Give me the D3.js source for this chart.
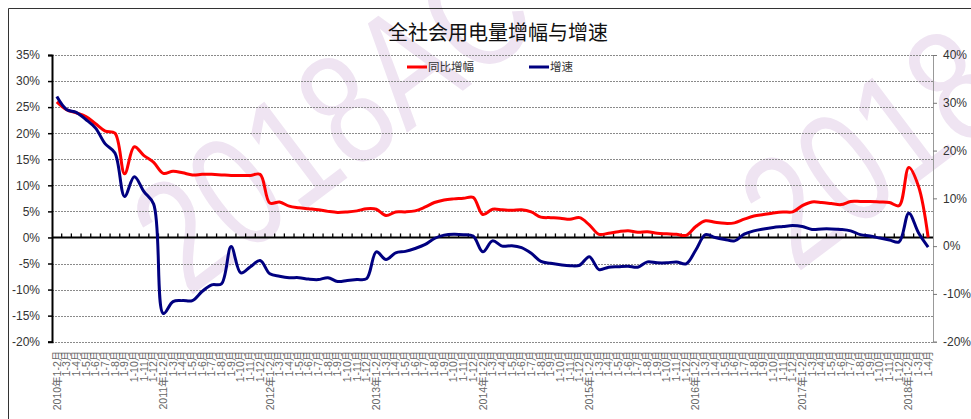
<!DOCTYPE html>
<html>
<head>
<meta charset="utf-8">
<script src="https://cdn.jsdelivr.net/npm/d3@7"></script>
<style>
  body { margin: 0; background: #fff; }
  svg { display: block; }
</style>
</head>
<body>
<div id="chart"></div>
<script>
// years and months for the category labels
const years = [2010, 2011, 2012, 2013, 2014, 2015, 2016, 2017, 2018];
const monthEnds = [2, 3, 4, 5, 6, 7, 8, 9, 10, 11, 12];
const lastYearMonthEnds = [2, 3, 4];

// 同比增幅 (left axis, %)
const yoyGrowth = [
  26.0, 24.5, 23.9, 23.2, 21.8, 20.4, 20.0, 12.2, 17.4, 15.7, 14.4,
  12.3, 12.7, 12.4, 12.0, 12.1, 12.1, 12.0, 11.9, 11.9, 11.9, 12.1,
  6.6, 6.8, 6.0, 5.7, 5.5, 5.3, 5.0, 4.8, 4.9, 5.1, 5.5,
  5.4, 4.2, 4.9, 4.9, 5.1, 5.8, 6.7, 7.2, 7.4, 7.5, 7.7,
  4.4, 5.4, 5.3, 5.2, 5.3, 4.9, 3.9, 3.8, 3.7, 3.5, 3.8,
  2.4, 0.6, 0.8, 1.1, 1.3, 1.0, 1.1, 0.8, 0.7, 0.6, 0.4,
  2.1, 3.2, 2.9, 2.7, 2.8, 3.5, 4.1, 4.4, 4.7, 4.9, 4.9,
  6.1, 6.8, 6.7, 6.5, 6.3, 6.9, 6.9, 6.9, 6.8, 6.7, 6.1,
  13.4, 9.8, 0.0
];

// 增速 (right axis, %)
const speed = [
  31.3, 28.6, 28.0, 26.5, 24.7, 21.4, 19.5, 10.4, 14.5, 11.4, 8.8,
  -14.1, -11.6, -11.4, -11.4, -9.5, -8.1, -7.9, -0.1, -5.6, -4.3, -3.0,
  -5.8, -6.3, -6.6, -6.6, -6.9, -7.0, -6.6, -7.4, -7.2, -7.0, -6.8,
  -1.2, -2.8, -1.4, -1.1, -0.5, 0.3, 1.6, 2.3, 2.5, 2.4, 2.1,
  -1.2, 1.1, 0.0, 0.1, -0.3, -1.5, -3.2, -3.6, -3.9, -4.1, -4.0,
  -2.2, -4.9, -4.4, -4.3, -4.2, -4.4, -3.3, -3.5, -3.5, -3.3, -3.7,
  -0.8, 2.4, 1.8, 1.4, 1.1, 2.5, 3.2, 3.6, 3.9, 4.1, 4.3,
  4.1, 3.5, 3.6, 3.6, 3.5, 3.2, 2.4, 2.1, 1.7, 1.3, 0.9,
  6.9, 2.8, -0.2
];

const leftTicks = [-20, -15, -10, -5, 0, 5, 10, 15, 20, 25, 30, 35];
const rightTicks = [-20, -10, 0, 10, 20, 30, 40];

// build category labels (they repeat every year, so key by index)
const categories = [];
years.forEach(yr => {
  const ends = yr === 2018 ? lastYearMonthEnds : monthEnds;
  ends.forEach((m, k) => {
    categories.push(k === 0 ? `${yr}年1-${m}月` : `1-${m}月`);
  });
});

const data = categories.map((c, i) => ({ i, cat: c, red: yoyGrowth[i], blue: speed[i] }));

// chart dimensions
const width = 971;
const height = 419;
const plotLeft = 52;
const plotRight = 933;
const plotTop = 55;
const plotBottom = 341.7;

const x = d3.scaleBand(d3.range(categories.length), [plotLeft, plotRight]).padding(0);
const cx = i => x(i) + x.bandwidth() / 2;
const yL = d3.scaleLinear([-20, 35], [plotBottom, plotTop]);
const yR = d3.scaleLinear([-20, 40], [plotBottom, plotTop]);

const svg = d3.select("#chart").append("svg")
    .attr("width", width)
    .attr("height", height)
    .attr("viewBox", [0, 0, width, height]);

// watermark
const wm = svg.append("g")
    .attr("font-family", "'Liberation Sans', sans-serif")
    .attr("font-size", 140)
    .attr("fill", "#efe4f2");
wm.append("text")
    .attr("transform", "translate(188,298) rotate(-37) scale(0.88,1.15)")
    .text("2018AC");
wm.append("text")
    .attr("transform", "translate(796,274) rotate(-37) scale(0.88,1.15)")
    .text("2018AC");

// outer frame
svg.append("path")
    .attr("d", `M8.5,${height}V8.5H${width}`)
    .attr("fill", "none")
    .attr("stroke", "#333")
    .attr("stroke-width", 1);

// grid lines
svg.append("g")
  .selectAll("line")
  .data(leftTicks.filter(v => v !== 0))
  .join("line")
    .attr("x1", plotLeft)
    .attr("x2", plotRight)
    .attr("y1", d => Math.round(yL(d)) + 0.5)
    .attr("y2", d => Math.round(yL(d)) + 0.5)
    .attr("stroke", "#8a8a8a")
    .attr("stroke-dasharray", "2,1");

// left axis
svg.append("g")
    .attr("transform", `translate(${plotLeft},0)`)
    .call(d3.axisLeft(yL).tickValues(leftTicks).tickSize(4).tickPadding(8).tickFormat(d => d + "%"))
    .call(g => g.select(".domain").attr("stroke", "#000").attr("stroke-width", 2))
    .call(g => g.selectAll(".tick line").attr("stroke", "#000").attr("stroke-width", 1.5))
    .call(g => g.selectAll("text").attr("font-family", "'Liberation Sans', Arial, sans-serif").attr("font-size", 12).attr("fill", "#333"));

// right axis
svg.append("g")
    .attr("transform", `translate(${plotRight},0)`)
    .call(d3.axisRight(yR).tickValues(rightTicks).tickSize(4).tickPadding(6).tickFormat(d => d + "%"))
    .call(g => g.select(".domain").attr("stroke", "#999"))
    .call(g => g.selectAll(".tick line").attr("stroke", "#777"))
    .call(g => g.selectAll("text").attr("font-family", "'Liberation Sans', Arial, sans-serif").attr("font-size", 12).attr("fill", "#333"));

// zero line with category ticks
const y0 = yL(0);
svg.append("g")
  .selectAll("line")
  .data(d3.range(1, categories.length))
  .join("line")
    .attr("x1", i => x(i))
    .attr("x2", i => x(i))
    .attr("y1", y0 - 4)
    .attr("y2", y0)
    .attr("stroke", "#000")
    .attr("stroke-width", 1.3);
svg.append("line")
    .attr("x1", plotLeft)
    .attr("x2", plotRight)
    .attr("y1", y0)
    .attr("y2", y0)
    .attr("stroke", "#000")
    .attr("stroke-width", 2);

// category labels (rotated)
svg.append("g")
    .attr("font-family", "'Liberation Sans', 'Noto Sans CJK SC', sans-serif")
    .attr("font-size", 10.5)
    .attr("fill", "#666")
  .selectAll("text")
  .data(data)
  .join("text")
    .attr("transform", d => `translate(${cx(d.i)},${plotBottom + 9}) rotate(-90)`)
    .attr("text-anchor", "end")
    .attr("dy", "0.35em")
    .text(d => d.cat);

// lines
const lineRed = d3.line()
    .x(d => cx(d.i))
    .y(d => yL(d.red))
    .curve(d3.curveCatmullRom.alpha(0.5));
const lineBlue = d3.line()
    .x(d => cx(d.i))
    .y(d => yR(d.blue))
    .curve(d3.curveCatmullRom.alpha(0.5));

svg.append("path")
    .attr("d", lineRed(data))
    .attr("fill", "none")
    .attr("stroke", "#ff0000")
    .attr("stroke-width", 3)
    .attr("stroke-linejoin", "round");
svg.append("path")
    .attr("d", lineBlue(data))
    .attr("fill", "none")
    .attr("stroke", "#000080")
    .attr("stroke-width", 3)
    .attr("stroke-linejoin", "round");

// title
svg.append("text")
    .attr("x", 498)
    .attr("y", 40)
    .attr("text-anchor", "middle")
    .attr("font-family", "'Noto Sans CJK SC', sans-serif")
    .attr("font-size", 20)
    .attr("fill", "#111")
    .text("全社会用电量增幅与增速");

// legend
const legend = [
  { name: "同比增幅", color: "#ff0000", x: 407 },
  { name: "增速", color: "#000080", x: 529 }
];
const lg = svg.append("g")
  .selectAll("g")
  .data(legend)
  .join("g")
    .attr("transform", d => `translate(${d.x},67)`);
lg.append("line")
    .attr("x1", 0).attr("x2", 20)
    .attr("stroke", d => d.color)
    .attr("stroke-width", 3);
lg.append("text")
    .attr("x", 21)
    .attr("dy", "0.35em")
    .attr("font-family", "'Noto Sans CJK SC', sans-serif")
    .attr("font-size", 11.5)
    .attr("fill", "#333")
    .text(d => d.name);
</script>
</body>
</html>
